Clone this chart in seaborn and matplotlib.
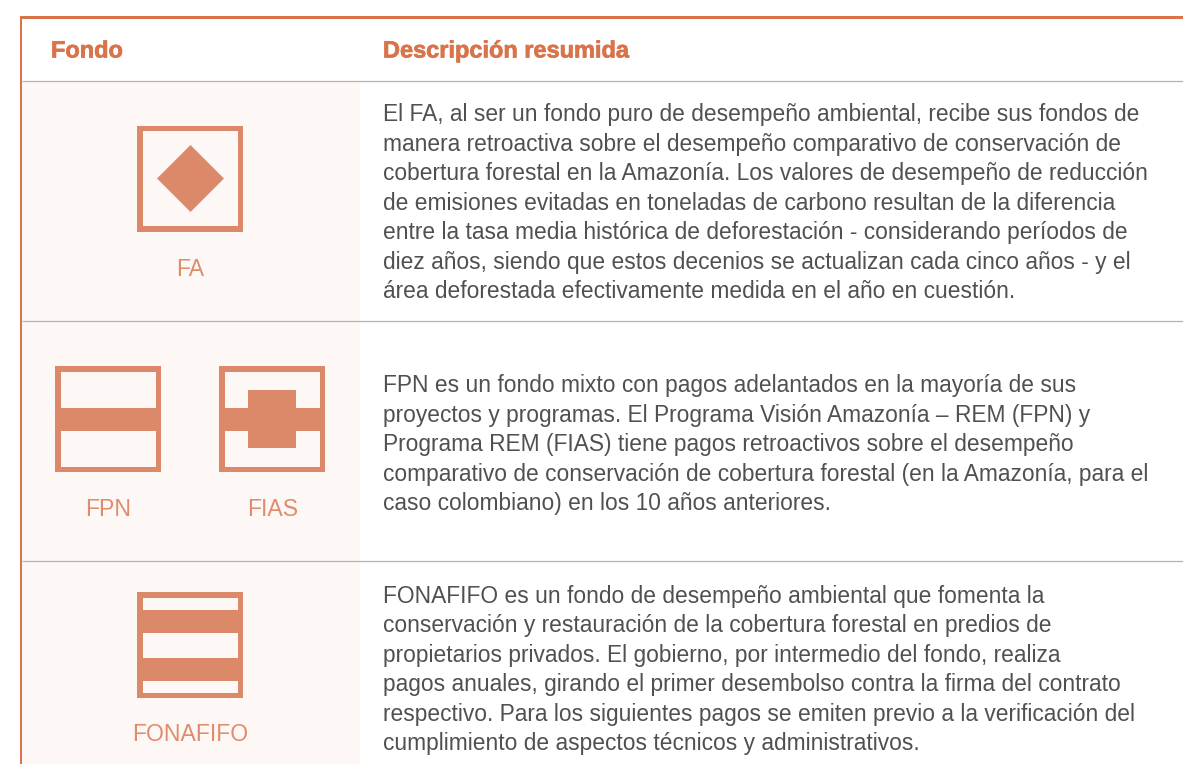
import matplotlib
matplotlib.use("Agg")
import matplotlib.pyplot as plt
import matplotlib.patheffects as pe
import seaborn as sns
from matplotlib.patches import Rectangle, Polygon

# =========================
# Table content
# =========================

header_fondo = "Fondo"
header_desc = "Descripción resumida"

labels = ["FA", "FPN", "FIAS", "FONAFIFO"]

row1_lines = [
    "El FA, al ser un fondo puro de desempeño ambiental, recibe sus fondos de",
    "manera retroactiva sobre el desempeño comparativo de conservación de",
    "cobertura forestal en la Amazonía. Los valores de desempeño de reducción",
    "de emisiones evitadas en toneladas de carbono resultan de la diferencia",
    "entre la tasa media histórica de deforestación - considerando períodos de",
    "diez años, siendo que estos decenios se actualizan cada cinco años - y el",
    "área deforestada efectivamente medida en el año en cuestión.",
]
row2_lines = [
    "FPN es un fondo mixto con pagos adelantados en la mayoría de sus",
    "proyectos y programas. El Programa Visión Amazonía – REM (FPN) y",
    "Programa REM (FIAS) tiene pagos retroactivos sobre el desempeño",
    "comparativo de conservación de cobertura forestal (en la Amazonía, para el",
    "caso colombiano) en los 10 años anteriores.",
]
row3_lines = [
    "FONAFIFO es un fondo de desempeño ambiental que fomenta la",
    "conservación y restauración de la cobertura forestal en predios de",
    "propietarios privados. El gobierno, por intermedio del fondo, realiza",
    "pagos anuales, girando el primer desembolso contra la firma del contrato",
    "respectivo. Para los siguientes pagos se emiten previo a la verificación del",
    "cumplimiento de aspectos técnicos y administrativos.",
]

ORANGE = "#d9734a"
ICON = "#db8969"
LABEL = "#e08c6c"
SHADE = "#fdf8f6"
RULE = "#b5b2b0"
TEXT = "#505050"

sns.set_theme(style="white")
plt.rcParams["font.family"] = ["Liberation Sans", "DejaVu Sans"]

fig, ax = plt.subplots(figsize=(11.83, 7.64), dpi=100)
fig.subplots_adjust(0, 0, 1, 1)
ax.set_xlim(0, 1183)
ax.set_ylim(764, 0)
ax.axis("off")


def box(x, y, w, h, color=ICON):
    ax.add_patch(Rectangle((x, y), w, h, facecolor=color, edgecolor="none"))


def frame(x, y, size=106, t=5.5):
    box(x, y, size, t)
    box(x, y + size - t, size, t)
    box(x, y, t, size)
    box(x + size - t, y, t, size)


# =========================
# Background and rules
# =========================

box(22, 81, 338, 683, SHADE)
box(20, 16, 1163, 2.5, ORANGE)
box(20, 16, 2.5, 748, ORANGE)
for y in [80.5, 321, 561]:
    ax.plot([22, 1183], [y, y], color=RULE, lw=0.9, solid_capstyle="butt")

bold = [pe.withStroke(linewidth=0.5, foreground=ORANGE)]
ax.text(51, 57.5, header_fondo, color=ORANGE, fontsize=16.95, fontweight="bold",
        va="baseline", path_effects=bold)
ax.text(383, 57.5, header_desc, color=ORANGE, fontsize=16.95, fontweight="bold",
        va="baseline", path_effects=bold)

# =========================
# Icons
# =========================

frame(137.5, 125.5)
ax.add_patch(Polygon([(157, 178.5), (190.5, 145), (224, 178.5), (190.5, 212)],
                     facecolor=ICON, edgecolor="none"))

frame(55.5, 366)
box(55.5, 408, 106, 22.5)

frame(219.5, 366)
box(219.5, 408, 106, 22.5)
box(248.5, 390, 48, 58)

frame(137.5, 592)
box(137.5, 610, 106, 23)
box(137.5, 657.5, 106, 23)

# =========================
# Labels
# =========================

label_x = [190, 108.5, 272.5, 190.5]
label_y = [276, 516, 516, 741]
for name, x, y in zip(labels, label_x, label_y):
    ax.text(x, y, name, color=LABEL, fontsize=16.6, ha="center", va="baseline")

# =========================
# Description text
# =========================

for lines, top in [(row1_lines, 121), (row2_lines, 392), (row3_lines, 602.5)]:
    for i, line in enumerate(lines):
        ax.text(383, top + i * 29.55, line, color=TEXT, fontsize=16.4, va="baseline")

fig.savefig("out.png", dpi=100)
